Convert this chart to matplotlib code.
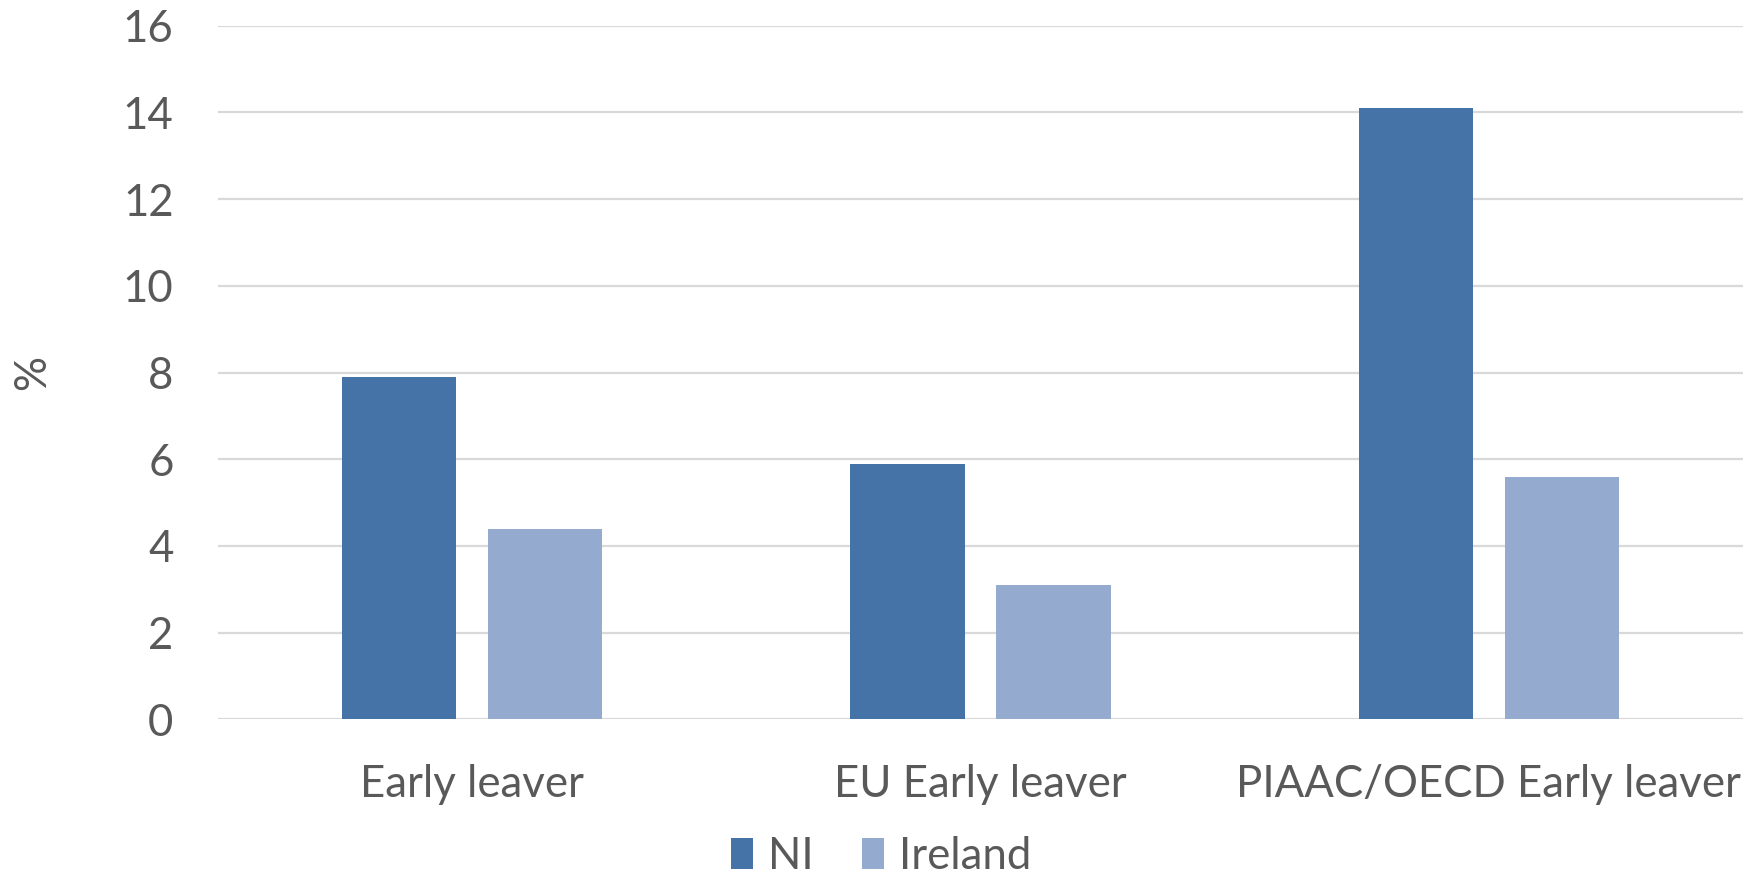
import numpy as np
import matplotlib
matplotlib.use("Agg")
import matplotlib.pyplot as plt

# Early leaver rates (%) by measure
categories = ["Early leaver", "EU Early leaver", "PIAAC/OECD Early leaver"]
ni_values = [7.9, 5.9, 14.1]
ireland_values = [4.4, 3.1, 5.6]
y_ticks = [0, 2, 4, 6, 8, 10, 12, 14, 16]

TEXT = "#595959"
GRID = "#D9D9D9"
NI_COLOR = "#4673A7"
IRL_COLOR = "#95AACF"
FS = 31.5

plt.rcParams["font.family"] = ["Lato", "DejaVu Sans"]

fig = plt.figure(figsize=(17.52, 8.8), dpi=100)
ax = fig.add_axes([0.1244, 0.1826, 0.8705, 0.7882])

x = np.arange(len(categories))
width = 0.2245
offset = 0.1435
ax.bar(x - offset, ni_values, width, color=NI_COLOR, label="NI", zorder=3)
ax.bar(x + offset, ireland_values, width, color=IRL_COLOR, label="Ireland", zorder=3)

ax.set_xlim(-0.5, len(categories) - 0.5)
ax.set_ylim(0, 16)
ax.set_yticks(y_ticks)
ax.set_xticks(x)
ax.set_xticklabels(categories)
ax.tick_params(axis="both", length=0, labelsize=FS, colors=TEXT)
ax.tick_params(axis="y", pad=32)
ax.tick_params(axis="x", pad=32)
ax.grid(axis="y", color=GRID, linewidth=1.6, zorder=0)
for s in ax.spines.values():
    s.set_visible(False)

ax.set_ylabel("%", fontsize=FS, color=TEXT)
ax.yaxis.set_label_coords(-0.108, 0.5)

fig.legend(loc="lower center", bbox_to_anchor=(0.503, -0.041), ncol=2,
           frameon=False, fontsize=FS, labelcolor=TEXT,
           handlelength=0.5, handleheight=0.7, handletextpad=0.35,
           columnspacing=1.1)

fig.savefig("out.png", dpi=100)
